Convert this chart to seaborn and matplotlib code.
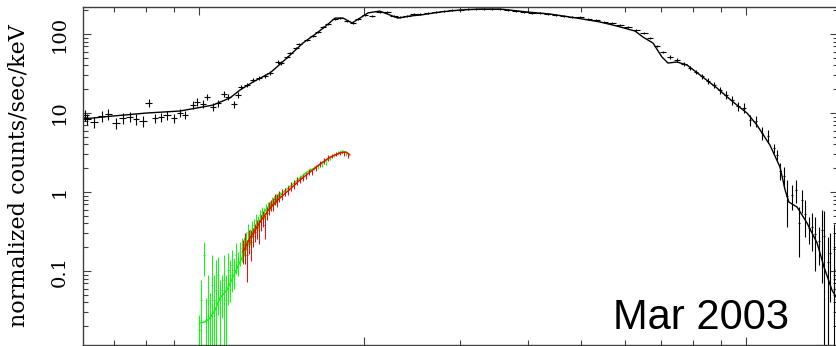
import numpy as np
import pandas as pd
import seaborn as sns
import matplotlib.pyplot as plt
from matplotlib.ticker import FixedLocator, FixedFormatter, NullFormatter

# black spectrum (data): energy keV, normalized counts/sec/keV, bin half-width, error
pn_energy = [0.619, 0.624, 0.643, 0.665, 0.682, 0.705, 0.726, 0.748, 0.767, 0.790, 0.810, 0.831, 0.852, 0.874,
             0.900, 0.923, 0.943, 0.975, 0.992, 1.017, 1.034, 1.061, 1.083, 1.111, 1.130, 1.159, 1.178,
             1.193, 1.224, 1.255, 1.287, 1.320, 1.348, 1.394, 1.412, 1.448, 1.467, 1.504, 1.523, 1.576, 1.616,
             1.650, 1.686, 1.721, 1.773, 1.811, 1.865, 1.912, 1.953, 2.011, 2.072, 2.142, 2.207, 2.273, 2.330,
             2.400, 2.472, 2.535, 2.623, 2.713, 2.804, 2.900, 3.000, 3.103, 3.209, 3.319, 3.433, 3.550, 3.672,
             3.798, 3.928, 4.063, 4.202, 4.345, 4.495, 4.649, 4.808, 4.972, 5.143, 5.319, 5.501, 5.689, 5.884,
             6.085, 6.294, 6.509, 6.677, 6.877, 7.052, 7.262, 7.480, 7.704, 7.900, 8.102, 8.309, 8.521, 8.739,
             8.962, 9.191, 9.427, 9.670, 9.916, 10.17, 10.43, 10.70, 10.97,
             11.25, 11.39, 11.54, 11.74, 11.88, 12.13, 12.34, 12.50, 12.66, 12.82, 13.04, 13.20, 13.37, 13.60,
             13.77, 13.89, 14.12, 14.24, 14.48, 14.61]
pn_flux = [9.43, 8.40, 7.69, 9.16, 9.71, 7.47, 8.65, 8.90, 8.40, 7.92, 13.4, 8.65, 8.90, 9.43,
           8.65, 10.0, 9.43, 12.6, 13.8, 13.0, 16.0, 11.9, 13.4, 17.4, 16.0, 13.0, 16.9,
           21.3, 22.6, 26.2, 27.7, 29.4, 32.1, 44.2, 43.0, 51.2, 57.5, 66.5, 74.7, 84.0, 94.3,
           106, 123, 134, 155, 159, 146, 138, 155, 174, 169, 190, 190, 169, 164,
           169, 179, 179, 184, 190, 196, 201, 201, 207, 207, 207, 207, 207, 201,
           196, 190, 184, 184, 179, 174, 169, 164, 164, 155, 150, 142, 138, 130,
           123, 112, 103, 89.0, 70.5, 59.2, 51.2, 46.9, 41.7, 37.1, 33.0, 29.4, 25.4, 22.6,
           19.6, 16.9, 14.6, 12.3, 11.6, 8.15, 7.92, 5.58, 5.12,
           3.6, 2.97, 1.87, 1.6, 0.89, 0.91, 1.07, 0.40, 0.80, 0.53, 0.35, 0.36, 0.29, 0.24,
           0.33, 0.28, 0.13, 0.17, 0.19, 0.105]
pn_energy_err = [0.010, 0.010, 0.010, 0.010, 0.010, 0.011, 0.011, 0.011, 0.011, 0.012, 0.012, 0.012, 0.012, 0.013,
                 0.013, 0.013, 0.013, 0.014, 0.014, 0.014, 0.014, 0.015, 0.015, 0.015, 0.015, 0.016, 0.016,
                 0.015, 0.015, 0.016, 0.016, 0.017, 0.017, 0.017, 0.018, 0.018, 0.018, 0.019, 0.019, 0.020, 0.020,
                 0.021, 0.021, 0.022, 0.022, 0.023, 0.023, 0.024, 0.025, 0.025, 0.030, 0.035, 0.036, 0.037, 0.038,
                 0.039, 0.040, 0.041, 0.043, 0.044, 0.046, 0.047, 0.049, 0.051, 0.052, 0.054, 0.056, 0.058, 0.060,
                 0.062, 0.064, 0.066, 0.069, 0.071, 0.073, 0.076, 0.078, 0.081, 0.084, 0.087, 0.090, 0.093, 0.096,
                 0.099, 0.103, 0.106, 0.080, 0.080, 0.090, 0.090, 0.090, 0.090, 0.080, 0.080, 0.080, 0.080, 0.080,
                 0.080, 0.080, 0.080, 0.080, 0.080, 0.060, 0.060, 0.060, 0.060,
                 0.04, 0.04, 0.04, 0.04, 0.04, 0.04, 0.04, 0.04, 0.04, 0.04, 0.04, 0.04, 0.04, 0.04,
                 0.04, 0.04, 0.04, 0.04, 0.04, 0.04]
pn_flux_err = [1.4, 1.3, 1.2, 1.4, 1.5, 1.2, 1.3, 1.3, 1.3, 1.2, 1.6, 1.2, 1.2, 1.2,
               1.1, 1.2, 1.1, 1.4, 1.5, 1.4, 1.6, 1.3, 1.4, 1.6, 1.5, 1.3, 1.5,
               1.2, 1.2, 1.4, 1.4, 1.5, 1.6, 2.0, 2.0, 2.2, 2.4, 2.6, 2.8, 3.0, 3.2,
               3.4, 3.8, 4.0, 4.4, 4.5, 4.2, 4.0, 4.4, 4.8, 4.2, 4.8, 4.8, 4.2, 4.1,
               4.2, 4.5, 4.5, 4.6, 4.8, 4.9, 5.0, 5.0, 5.2, 5.2, 5.2, 5.2, 5.2, 5.0,
               4.9, 4.8, 4.6, 4.6, 4.5, 4.4, 4.2, 4.1, 4.1, 3.9, 3.8, 3.6, 3.5, 3.3,
               3.1, 2.8, 2.6, 2.7, 2.5, 2.4, 2.3, 2.3, 2.2, 2.2, 2.1, 2.1, 2.2, 2.1,
               2.0, 1.9, 1.8, 1.6, 1.6, 1.3, 1.3, 1.0, 1.0,
               0.5, 0.43, 0.46, 0.46, 0.53, 0.32, 0.35, 0.25, 0.26, 0.26, 0.13, 0.18, 0.19, 0.12,
               0.26, 0.30, 0.14, 0.13, 0.20, 0.079]

# black model
pn_model_energy = [0.614, 0.696, 0.803, 0.923, 1.061, 1.139, 1.188, 1.255, 1.348, 1.388, 1.448, 1.549, 1.643,
                   1.714, 1.773, 1.834, 1.905, 1.969, 2.037, 2.140, 2.234, 2.311, 2.430, 2.540, 2.760, 3.000,
                   3.265, 3.550, 3.980, 4.380, 4.910, 5.410, 5.810, 6.270, 6.480, 6.760, 7.020, 7.200, 7.480,
                   7.800, 8.240, 8.850, 9.470, 10.04, 10.47, 11.06, 11.54, 11.79, 11.98, 12.40, 12.93, 13.49,
                   13.89, 14.36, 14.85]
pn_model_flux = [8.40, 9.16, 10.0, 10.6, 12.6, 15.5, 19.5, 24.7, 32.1, 38.2, 49.7, 76.9, 103,
                 130, 159, 159, 138, 159, 185, 195, 174, 159, 169, 174, 190, 201,
                 207, 207, 190, 179, 159, 142, 126, 109, 91.6, 76.9, 51.2, 42.9, 44.2,
                 40.5, 30.3, 20.7, 13.8, 10.0, 7.05, 3.93, 2.07, 1.06, 0.746, 0.645, 0.405, 0.226,
                 0.112, 0.0575, 0.039]

# red spectrum
red_energy = [1.203, 1.213, 1.224, 1.234, 1.245, 1.255, 1.266, 1.276, 1.287, 1.298, 1.309, 1.320, 1.332,
              1.343, 1.354, 1.365, 1.377, 1.388, 1.400, 1.418, 1.436, 1.455, 1.473, 1.492, 1.511, 1.530,
              1.549, 1.569, 1.589, 1.609, 1.636, 1.664, 1.692, 1.721, 1.751, 1.780, 1.811, 1.841, 1.873]
red_flux = [0.184, 0.213, 0.159, 0.247, 0.233, 0.277, 0.312, 0.350, 0.330, 0.417, 0.469, 0.382, 0.542,
            0.627, 0.685, 0.705, 0.816, 0.792, 0.890, 0.943, 1.00, 1.06, 1.19, 1.26, 1.38, 1.42,
            1.50, 1.59, 1.79, 1.79, 2.01, 2.26, 2.47, 2.69, 2.86, 3.03, 3.12, 3.03, 2.86]
red_flux_err = [0.062, 0.089, 0.087, 0.083, 0.098, 0.073, 0.082, 0.092, 0.11, 0.094, 0.11, 0.13, 0.10,
                0.12, 0.11, 0.13, 0.13, 0.15, 0.14, 0.15, 0.12, 0.13, 0.15, 0.16, 0.17, 0.13,
                0.14, 0.14, 0.16, 0.16, 0.18, 0.21, 0.22, 0.24, 0.17, 0.18, 0.19, 0.18, 0.17]
red_model_energy = [1.203, 1.239, 1.293, 1.348, 1.406, 1.467, 1.530, 1.596, 1.664, 1.736, 1.811, 1.857, 1.888]
red_model_flux = [0.174, 0.262, 0.417, 0.627, 0.840, 1.09, 1.42, 1.79, 2.26, 2.77, 3.12, 3.21, 2.94]

# green spectrum
green_energy = [1.000, 1.008, 1.021, 1.030, 1.038, 1.047, 1.056, 1.065, 1.074, 1.083, 1.092, 1.102, 1.111,
                1.120, 1.130, 1.139, 1.149, 1.159, 1.168, 1.178, 1.188, 1.198, 1.208, 1.219, 1.229, 1.239,
                1.250, 1.260, 1.271, 1.282, 1.293, 1.304, 1.315,
                1.326, 1.337, 1.348, 1.360, 1.371, 1.383, 1.394, 1.406, 1.418, 1.436, 1.455, 1.473, 1.492,
                1.511, 1.530, 1.549, 1.569, 1.596, 1.623, 1.650, 1.678, 1.707, 1.736, 1.766, 1.795, 1.826, 1.857]
green_flux = [0.0179, 0.0430, 0.159, 0.0240, 0.0430, 0.0254, 0.0665, 0.0430, 0.0575, 0.0890, 0.0430, 0.0575, 0.0769,
              0.0430, 0.103, 0.0890, 0.119, 0.103, 0.159, 0.130, 0.174, 0.196, 0.213, 0.247, 0.312, 0.277,
              0.350, 0.382, 0.442, 0.417, 0.512, 0.558, 0.542,
              0.609, 0.665, 0.685, 0.769, 0.792, 0.840, 0.890, 0.916, 0.971, 1.03, 1.12, 1.23, 1.30,
              1.42, 1.50, 1.59, 1.74, 1.90, 2.01, 2.07, 2.20, 2.33, 2.69, 2.94, 3.12, 3.21, 3.03]
green_flux_err = [0.0098, 0.034, 0.073, 0.0215, 0.046, 0.027, 0.093, 0.046, 0.080, 0.061, 0.034, 0.032, 0.082,
                  0.046, 0.066, 0.049, 0.065, 0.043, 0.067, 0.044, 0.059, 0.066, 0.056, 0.065, 0.082, 0.063,
                  0.079, 0.073, 0.084, 0.080, 0.080, 0.088, 0.085,
                  0.095, 0.08, 0.085, 0.095, 0.098, 0.104, 0.08, 0.083, 0.088, 0.094, 0.10, 0.11, 0.12,
                  0.13, 0.14, 0.14, 0.10, 0.11, 0.12, 0.12, 0.13, 0.14, 0.16, 0.18, 0.19, 0.19, 0.18]
green_model_energy = [1.004, 1.025, 1.047, 1.070, 1.092, 1.125, 1.154, 1.188, 1.224, 1.266, 1.304, 1.348,
                      1.406, 1.485, 1.576, 1.664, 1.758, 1.834, 1.880]
green_model_flux = [0.0220, 0.0226, 0.0254, 0.0321, 0.0455, 0.0575, 0.0840, 0.130, 0.201, 0.312, 0.512, 0.685,
                    0.916, 1.26, 1.79, 2.20, 2.86, 3.30, 3.03]

sns.set_style("ticks")
plt.rcParams["font.family"] = ["DejaVu Serif"]
plt.rcParams["text.color"] = "black"
plt.rcParams["axes.labelcolor"] = "black"
plt.rcParams["xtick.color"] = "black"
plt.rcParams["ytick.color"] = "black"

fig = plt.figure(figsize=(8.37, 3.46), dpi=100)
ax = fig.add_axes([83 / 837, 1.5 / 346, 755 / 837, 337.8 / 346])
ax.set_xscale("log")
ax.set_yscale("log")

# black data + model
ax.errorbar(pn_energy, pn_flux, xerr=pn_energy_err, yerr=pn_flux_err,
            fmt="none", ecolor="black", elinewidth=0.8, capsize=0)
sns.lineplot(x=pn_model_energy, y=pn_model_flux, ax=ax, color="black", lw=1.0,
             estimator=None, sort=False)

# green data + model
ax.errorbar(green_energy, green_flux, xerr=0.003, yerr=green_flux_err,
            fmt="none", ecolor="#00ff00", elinewidth=0.7, capsize=0)
sns.lineplot(x=green_model_energy, y=green_model_flux, ax=ax, color="#00ff00", lw=1.0,
             estimator=None, sort=False)

# red data + model on top
ax.errorbar(red_energy, red_flux, xerr=0.003, yerr=red_flux_err,
            fmt="none", ecolor="#ff0000", elinewidth=0.7, capsize=0)
sns.lineplot(x=red_model_energy, y=red_model_flux, ax=ax, color="#ff0000", lw=1.0,
             estimator=None, sort=False)

ax.set_xlim(0.6137, 14.73)
ax.set_ylim(0.01175, 221.6)

# ticks
ax.xaxis.set_major_locator(FixedLocator([1, 2, 10]))
ax.xaxis.set_minor_locator(FixedLocator([0.7, 0.8, 0.9, 3, 4, 5, 6, 7, 8, 9]))
ax.xaxis.set_major_formatter(NullFormatter())
ax.xaxis.set_minor_formatter(NullFormatter())
ax.yaxis.set_major_locator(FixedLocator([0.1, 1, 10, 100]))
ax.yaxis.set_major_formatter(FixedFormatter(["0.1", "1", "10", "100"]))
ax.yaxis.set_minor_locator(FixedLocator([0.02, 0.03, 0.04, 0.05, 0.06, 0.07, 0.08, 0.09,
                                         0.2, 0.3, 0.4, 0.5, 0.6, 0.7, 0.8, 0.9,
                                         2, 3, 4, 5, 6, 7, 8, 9,
                                         20, 30, 40, 50, 60, 70, 80, 90, 200]))
ax.yaxis.set_minor_formatter(NullFormatter())
ax.tick_params(which="both", direction="in", top=True, right=True, width=0.8, color="0.25")
ax.tick_params(which="major", length=6)
ax.tick_params(which="minor", length=3.5)
ax.tick_params(axis="y", labelsize=14, pad=10, labelrotation=90)
for lab in ax.get_yticklabels():
    lab.set_va("center")

for sp in ax.spines.values():
    sp.set_linewidth(1.0)
    sp.set_color("0.25")

ax.set_xlabel("")
ax.set_ylabel("normalized counts/sec/keV", fontsize=16)
ax.yaxis.set_label_coords(-0.071, 0.5)

ax.text(0.7016, 0.046, "Mar 2003", transform=ax.transAxes, fontsize=30,
        family="Liberation Sans", color="black", ha="left", va="baseline")

fig.savefig("out.png", dpi=100)
